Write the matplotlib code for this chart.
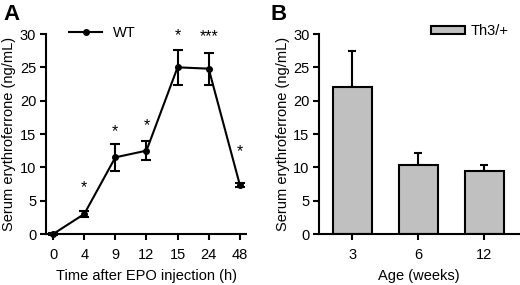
import matplotlib
matplotlib.use("Agg")
import matplotlib.pyplot as plt
from matplotlib.lines import Line2D
import numpy as np

plt.rcParams['font.family'] = ['Liberation Sans', 'DejaVu Sans']
plt.rcParams['font.size'] = 10.5

# Panel A: serum erythroferrone after EPO injection (WT)
time_labels = ['0', '4', '9', '12', '15', '24', '48']
wt_mean = [0.0, 3.0, 11.5, 12.5, 25.0, 24.8, 7.4]
wt_err = [0.1, 0.4, 2.0, 1.4, 2.6, 2.4, 0.3]
wt_stars = ['', '*', '*', '*', '*', '***', '*']
star_y = [0, 6.9, 15.4, 16.3, 29.8, 29.6, 12.4]

# Panel B: serum erythroferrone by age (Th3/+)
age_labels = ['3', '6', '12']
th3_mean = [22.0, 10.4, 9.5]
th3_err = [5.5, 1.7, 0.85]

fig = plt.figure(figsize=(5.2, 2.85), dpi=100)
axA = fig.add_axes([46 / 520, 51 / 285, 200 / 520, 200 / 285])
axB = fig.add_axes([319.3 / 520, 51 / 285, 200 / 520, 200 / 285])

lw = 1.5
fs = 10.5
for ax in (axA, axB):
    for s in ('top', 'right'):
        ax.spines[s].set_visible(False)
    for s in ('left', 'bottom'):
        ax.spines[s].set_linewidth(lw)
    ax.tick_params(direction='out', length=4, width=lw, labelsize=fs, pad=3)
    ax.tick_params(axis='x', pad=6)
    ax.set_ylim(0, 30)
    ax.set_yticks(np.arange(0, 31, 5))
    ax.set_ylabel('Serum erythroferrone (ng/mL)', fontsize=fs, labelpad=2.5)

# --- A ---
x = np.arange(len(time_labels))
axA.errorbar(x, wt_mean, yerr=wt_err, color='black', lw=lw, marker='o',
             markersize=4, capsize=3.5, capthick=lw, elinewidth=lw,
             clip_on=False, zorder=3)
for xi, st, sy in zip(x, wt_stars, star_y):
    if st:
        axA.text(xi, sy, st, ha='center', va='center', fontsize=11.5)
axA.set_xticks(x)
axA.set_xticklabels(time_labels)
axA.set_xlim(-0.23, 6.2)
axA.set_xlabel('Time after EPO injection (h)', fontsize=fs, labelpad=5)
wt_handle = Line2D([], [], color='black', lw=lw, marker='o', markersize=4)
axA.legend(handles=[wt_handle], labels=['WT'], loc='center left',
           bbox_to_anchor=(0.085, 1.005), frameon=False,
           handlelength=2.3, handletextpad=0.7, borderaxespad=0, fontsize=fs)

# --- B ---
xb = np.arange(len(age_labels))
axB.bar(xb, th3_mean, width=0.6, color='#c0c0c0', edgecolor='black',
        linewidth=lw, label='Th3/+', zorder=2)
axB.errorbar(xb, th3_mean, yerr=[np.zeros(len(th3_err)), th3_err], fmt='none',
             ecolor='black', elinewidth=lw, capsize=3, capthick=lw, zorder=1)
axB.set_xticks(xb)
axB.set_xticklabels(age_labels)
axB.set_xlim(-0.5, 2.53)
axB.set_xlabel('Age (weeks)', fontsize=fs, labelpad=5)
axB.legend(loc='center left', bbox_to_anchor=(0.53, 1.015), frameon=False,
           handlelength=2.3, handleheight=0.5, handletextpad=0.4,
           borderaxespad=0, fontsize=fs)

fig.text(3 / 520, 1 - 15 / 285, 'A', fontsize=16, fontweight='bold', va='center')
fig.text(271 / 520, 1 - 15 / 285, 'B', fontsize=16, fontweight='bold', va='center')

fig.savefig('out.png', dpi=100)
